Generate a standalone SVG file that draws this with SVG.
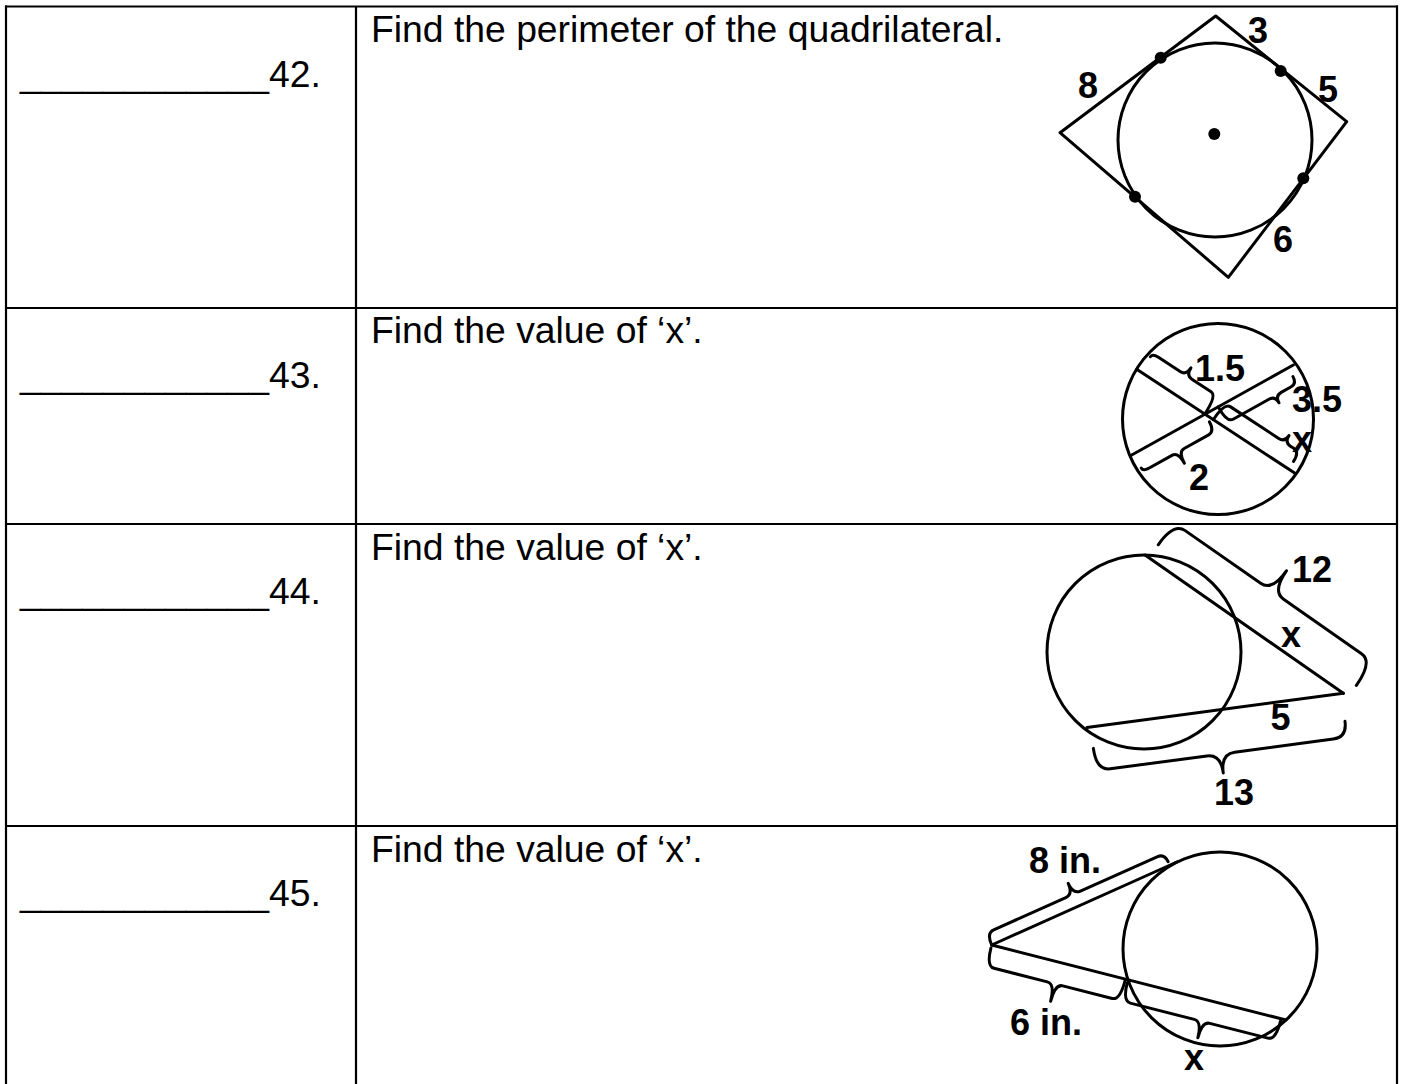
<svg xmlns="http://www.w3.org/2000/svg" width="1403" height="1084" viewBox="0 0 1403 1084">
<style>
.t{font-family:"Liberation Sans",Arial,sans-serif;font-size:37.3px;fill:#000}
.b{font-family:"Liberation Sans",Arial,sans-serif;font-size:36px;font-weight:bold;fill:#000}
.m{text-anchor:middle}
.ln{stroke:#000;stroke-width:3;fill:none;stroke-linecap:round;stroke-linejoin:round}
.g{stroke:#000;stroke-width:2.2;fill:none}
</style>
<rect width="1403" height="1084" fill="#fff"/>
<g id="table" class="g">
<line x1="5" y1="6.5" x2="1398" y2="6.5"/>
<line x1="6" y1="5.5" x2="6" y2="1084"/>
<line x1="1397" y1="5.5" x2="1397" y2="1084"/>
<line x1="356" y1="6.5" x2="356" y2="1084"/>
<line x1="6" y1="308" x2="1397" y2="308"/>
<line x1="6" y1="524" x2="1397" y2="524"/>
<line x1="6" y1="826" x2="1397" y2="826"/>
</g>
<g id="q42">
<text class="t" x="20" y="87">____________42.</text>
<text class="t" x="371" y="42">Find the perimeter of the quadrilateral.</text>
<g id="fig42">
<polygon class="ln" points="1215.7,16 1346.7,121.7 1228.3,277.3 1060,132.7"/>
<circle class="ln" cx="1215" cy="140" r="97"/>
<circle cx="1160.7" cy="57.7" r="6"/>
<circle cx="1280.7" cy="71" r="6"/>
<circle cx="1303.3" cy="178.3" r="6"/>
<circle cx="1135" cy="196.7" r="6"/>
<circle cx="1214.3" cy="134" r="6"/>
<text class="b m" x="1258" y="43">3</text>
<text class="b m" x="1088" y="98">8</text>
<text class="b m" x="1328" y="101.5">5</text>
<text class="b m" x="1283" y="252">6</text>
</g>
</g>
<g id="q43">
<text class="t" x="20" y="388">____________43.</text>
<text class="t" x="371" y="343">Find the value of ‘x’.</text>
<g id="fig43">
<circle class="ln" cx="1218" cy="419" r="95.5"/>
<line class="ln" x1="1136.7" y1="369.3" x2="1295" y2="473.3"/>
<line class="ln" x1="1131.7" y1="455" x2="1293.3" y2="365"/>
<path class="ln" transform="translate(1140.5,371.8) rotate(33.3)" d="M0,-18 Q0,-22 7,-22 H33 Q40,-22 40,-31 Q40,-22 47,-22 H70 Q77,-22 77,0"/>
<path class="ln" transform="translate(1133.4,454) rotate(-29.2) scale(1,-1)" d="M0,-16 Q0,-20 7,-20 H33 Q40,-20 40,-33 Q40,-20 47,-20 H75 Q82,-20 82,-9"/>
<path class="ln" transform="translate(1288.1,367.9) rotate(150.8)" d="M0,-10 Q0,-18 7,-18 H18 Q25,-18 25,-26 Q25,-18 32,-18 H73 Q80,-18 80,0"/>
<path class="ln" transform="translate(1213.4,419.5) rotate(33.3)" d="M0,0 Q0,-20 7,-20 H65 Q72,-20 72,-28 Q72,-20 79,-20 H83 Q90,-20 90,-9"/>
<text class="b" x="1195" y="381">1.5</text>
<text class="b" x="1292" y="412">3.5</text>
<text class="b" x="1292" y="452">x</text>
<text class="b m" x="1199" y="490">2</text>
</g>
</g>
<g id="q44">
<text class="t" x="20" y="604">____________44.</text>
<text class="t" x="371" y="560">Find the value of ‘x’.</text>
<g id="fig44">
<circle class="ln" cx="1144" cy="652" r="97"/>
<line class="ln" x1="1145" y1="555" x2="1343.3" y2="693.3"/>
<line class="ln" x1="1087" y1="727.5" x2="1343.3" y2="693.3"/>
<path class="ln" transform="translate(1149.1,557.9) rotate(34.9)" d="M0,-16 Q0,-43 14,-43 H106 Q120,-43 120,-68 Q120,-43 134,-43 H229 Q243,-43 243,-14"/>
<path class="ln" transform="translate(1341.3,693.6) rotate(172.4)" d="M0,-28 Q0,-44 14,-44 H113.5 Q127.5,-44 127.5,-63 Q127.5,-44 141.5,-44 H239 Q253,-44 253,-21.5"/>
<text class="b" x="1292" y="582">12</text>
<text class="b" x="1281" y="647">x</text>
<text class="b m" x="1280.5" y="730">5</text>
<text class="b m" x="1234" y="805">13</text>
</g>
</g>
<g id="q45">
<text class="t" x="20" y="906">____________45.</text>
<text class="t" x="371" y="862">Find the value of ‘x’.</text>
<g id="fig45">
<circle class="ln" cx="1220" cy="949" r="97"/>
<line class="ln" x1="991.7" y1="945" x2="1178" y2="861.5"/>
<line class="ln" x1="991.7" y1="945" x2="1286" y2="1020"/>
<path class="ln" transform="translate(991.7,945) rotate(-24.1)" d="M0,0 Q0,-13 8,-13 H87 Q95,-13 95,-25 Q95,-13 103,-13 H187 Q195,-13 195,-4"/>
<path class="ln" transform="translate(991.7,945) rotate(14.3) scale(1,-1)" d="M0,-3 Q0,-22 8,-22 H63 Q71,-22 71,-40 Q71,-22 79,-22 H130 Q138,-22 138,-1"/>
<path class="ln" transform="translate(1128,979.8) rotate(14.3) scale(1,-1)" d="M0,-3 Q0,-22 8,-22 H74 Q82,-22 82,-39 Q82,-22 90,-22 H150 Q158,-22 158,-2"/>
<text class="b" x="1029" y="873">8 in.</text>
<text class="b" x="1010" y="1035">6 in.</text>
<text class="b m" x="1194" y="1070">x</text>
</g>
</g>
</svg>
